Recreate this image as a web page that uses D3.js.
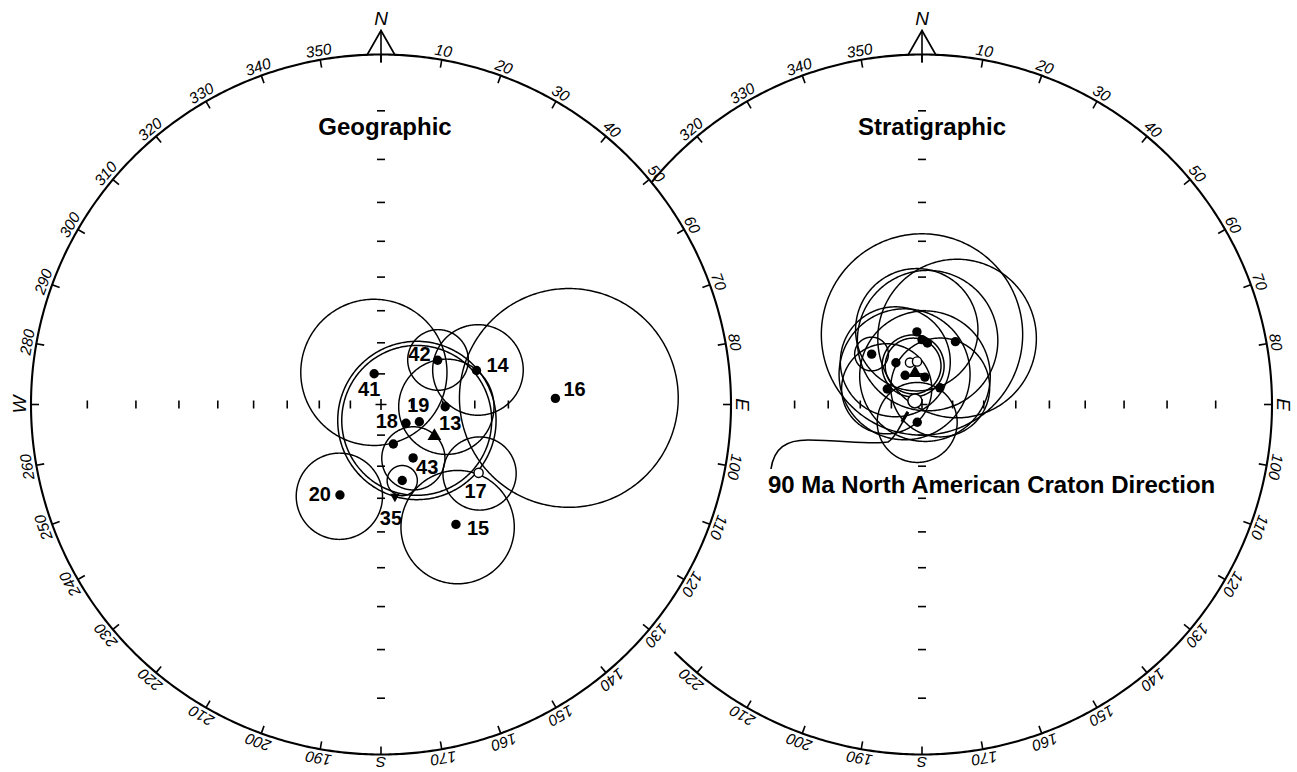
<!DOCTYPE html>
<html>
<head>
<meta charset="utf-8">
<script src="https://cdn.jsdelivr.net/npm/d3@7"></script>
<style>
  html, body { margin: 0; padding: 0; background: #fff; }
  svg { display: block; }
  .deg { font-family: "Liberation Sans", Arial, sans-serif; font-style: italic; font-size: 15.5px; }
  .card { font-family: "Liberation Sans", Arial, sans-serif; font-style: italic; font-size: 19px; }
  .card.south { font-size: 15.5px; }
  .title { font-family: "Liberation Sans", Arial, sans-serif; font-weight: bold; font-size: 24px; }
  .site { font-family: "Liberation Sans", Arial, sans-serif; font-weight: bold; font-size: 20px; }
  .note { font-family: "Liberation Sans", Arial, sans-serif; font-weight: bold; font-size: 24px; }
</style>
</head>
<body>
<svg id="chart" width="1297" height="772"></svg>
<script>
// ---- Net graduations ----
const azimuthTicks = d3.range(0, 360, 10);
const cardinalNames = new Map([[0, "N"], [90, "E"], [180, "S"], [270, "W"]]);
const inclinationTicks = [10, 20, 30, 40, 50, 60, 70, 80];

// ---- Geographic coordinates: site-mean directions ----
// declination (deg), inclination (deg, positive down; negative = upper hemisphere), alpha95 (deg, 0 = none)
const geoSiteIds = ["42", "14", "41", "13", "19", "18", "", "43", "", "35", "20", "17", "15", "16"];
const geoDec = [52, 70.4, 347.5, 92, 114.2, 126.9, 162.7, 149, 164.4, 171.4, 204.4, 125, 148, 88];
const geoInc = [66.8, 57.7, 79.7, 69.2, 76.3, 79.8, 76.5, 69.8, 64.6, 60.2, 58.3, -52.4, 46, 37];
const geoA95 = [9.5, 13.6, 23.4, 15, 0, 0, 0, 10, 4.7, 0, 13, 10.7, 15.8, 27.7];
const geoSymbol = ["dot", "dot", "dot", "dot", "dot", "dot", "dot", "dot", "dot", "wedge", "dot", "dot", "dot", "dot"];
const geoMeanDir = [120.6, 69.9];
const geoConeDir = [114, 77.8];
const geoConeRadii = [25.2, 23.9];

// ---- Stratigraphic (tilt-corrected) coordinates ----
const stratDec = [356, 0, 5, 28, 315, 328, 344, 353.4, 330, 6, 294, 47, 195];
const stratInc = [66.5, 69, 70, 67, 67, 74, -75.8, -75.9, 79, 81, 77.6, 82, 84];
const stratA95 = [19, 31, 22, 24.5, 5.3, 17.5, 0, 0, 21, 21, 14.5, 16, 13];
const stratMeanDir = [347.5, 79.5];
const stratConeDir = [347, 77.2];
const stratConeRadii = [10.0, 9.0];
const cratonDir = [297, 87.4];
const cratonText = "90 Ma North American Craton Direction";

// ---- Layout ----
const R = 350, CY = 404.5;
const nets = [
  { cx: 381, title: "Geographic", titleDx: 4, arc: [0, 360], other: 922 },
  { cx: 922, title: "Stratigraphic", titleDx: 10, arc: [-50.5, 225], other: 381 }
];
const cardinalOffset = { N: 6, E: 5, S: 2, W: 5 };
const geoLabelPlacement = {
  "42": [-7, 1, "end"], "14": [10, 1, "start"], "41": [-5, 22, "middle"],
  "13": [5, 23, "middle"], "19": [-1, -9.5, "middle"], "18": [-8, 5, "end"],
  "43": [3, 16, "start"], "35": [-4, 28, "middle"], "20": [-9, 6.5, "end"],
  "17": [-3, 25.5, "middle"], "15": [11, 10.5, "start"], "16": [8, -2, "start"]
};

const svg = d3.select("#chart");
svg.append("rect").attr("width", 1297).attr("height", 772).attr("fill", "#fff");

// direction -> point on a sphere whose north pole is "straight down"
const toGeo = (dec, inc) => [180 - dec, Math.abs(inc)];

function netProjection(cx) {
  return d3.geoStereographic().rotate([0, -90]).scale(R).translate([cx, CY]).precision(0.1);
}

// is azimuth inside the drawn part of the primitive (with a margin for labels)
function inArc(az, arc, margin) {
  const span = arc[1] - arc[0];
  if (span >= 360) return true;
  const a = (((az - arc[0]) % 360) + 360) % 360;
  return a >= margin && a <= span - margin;
}

function drawNet(net) {
  const proj = netProjection(net.cx);
  const g = svg.append("g");
  const stroke = "#000";

  // primitive circle
  const pts = d3.range(net.arc[0], net.arc[1] + 0.001, 0.5).map(a => proj([180 - a, 0]));
  g.append("path")
    .attr("d", d3.line()(pts) + (net.arc[1] - net.arc[0] >= 360 ? "Z" : ""))
    .attr("fill", "none").attr("stroke", stroke).attr("stroke-width", 2.1);

  // azimuth ticks and labels
  azimuthTicks.filter(az => inArc(az, net.arc, 3)).forEach(az => {
    const p = proj([180 - az, 0]);
    const ux = (p[0] - net.cx) / R, uy = (p[1] - CY) / R;
    g.append("line")
      .attr("x1", p[0]).attr("y1", p[1])
      .attr("x2", p[0] - ux * 8).attr("y2", p[1] - uy * 8)
      .attr("stroke", stroke).attr("stroke-width", 1.6);
    if (az === 0) return;
    const name = cardinalNames.get(az);
    g.append("text")
      .attr("class", name ? (name === "S" ? "card south" : "card") : "deg")
      .attr("text-anchor", "middle")
      .attr("transform", `translate(${net.cx},${CY}) rotate(${az}) translate(0,${-(R + (name ? cardinalOffset[name] : 4))})`)
      .text(name || String(az));
  });

  // north arrow
  const top = CY - R;
  g.append("path")
    .attr("d", `M${net.cx - 14},${top + 0.6}L${net.cx},${top - 24}L${net.cx + 14},${top + 0.6}`)
    .attr("fill", "none").attr("stroke", stroke).attr("stroke-width", 1.8).attr("stroke-linejoin", "miter");
  g.append("line")
    .attr("x1", net.cx).attr("y1", top - 24).attr("x2", net.cx).attr("y2", top + 8)
    .attr("stroke", stroke).attr("stroke-width", 1.6);
  g.append("text").attr("class", "card").attr("text-anchor", "middle")
    .attr("x", net.cx).attr("y", top - 29.5).text("N");

  // inclination ticks along the cardinal axes
  [0, 90, 180, 270].forEach(az => {
    inclinationTicks.forEach(inc => {
      const p = proj([180 - az, inc]);
      if (Math.hypot(p[0] - net.other, p[1] - CY) < R + 30) return;
      const horiz = az % 180 === 0;
      g.append("line")
        .attr("x1", horiz ? p[0] - 4 : p[0]).attr("x2", horiz ? p[0] + 4 : p[0])
        .attr("y1", horiz ? p[1] : p[1] - 4).attr("y2", horiz ? p[1] : p[1] + 4)
        .attr("stroke", stroke).attr("stroke-width", 1.6);
    });
  });
  const c = proj([0, 90]);
  g.append("path")
    .attr("d", `M${c[0] - 5.5},${c[1]}H${c[0] + 5.5}M${c[0]},${c[1] - 5.5}V${c[1] + 5.5}`)
    .attr("stroke", stroke).attr("stroke-width", 1.6);

  // title
  g.append("text").attr("class", "title").attr("text-anchor", "middle")
    .attr("x", net.cx + net.titleDx).attr("y", 135).text(net.title);

  return { g, proj, path: d3.geoPath(proj) };
}

function drawCircle(ctx, dec, inc, a95, width) {
  ctx.g.append("path")
    .attr("d", ctx.path(d3.geoCircle().center(toGeo(dec, inc)).radius(a95).precision(1)()))
    .attr("fill", "none").attr("stroke", "#000").attr("stroke-width", width || 1.45);
}

function drawSymbol(ctx, dec, inc, kind) {
  const p = ctx.proj(toGeo(dec, inc));
  if (kind === "triangle" || kind === "wedge") {
    ctx.g.append("path")
      .attr("d", d3.symbol(d3.symbolTriangle, kind === "triangle" ? 82 : 40)())
      .attr("transform", `translate(${p[0]},${p[1]})${kind === "wedge" ? " rotate(180)" : ""}`)
      .attr("fill", "#000");
  } else if (kind === "big") {
    ctx.g.append("circle").attr("cx", p[0]).attr("cy", p[1]).attr("r", 7)
      .attr("fill", "#fff").attr("stroke", "#000").attr("stroke-width", 1.5);
  } else if (inc < 0) {
    ctx.g.append("circle").attr("cx", p[0]).attr("cy", p[1]).attr("r", 4.6)
      .attr("fill", "#fff").attr("stroke", "#000").attr("stroke-width", 1.4);
  } else {
    ctx.g.append("circle").attr("cx", p[0]).attr("cy", p[1]).attr("r", 4.7).attr("fill", "#000");
  }
  return p;
}

// ---- Geographic net ----
const geo = drawNet(nets[0]);
geoDec.forEach((d, i) => { if (geoA95[i] > 0) drawCircle(geo, d, geoInc[i], geoA95[i]); });
geoConeRadii.forEach(a => drawCircle(geo, geoConeDir[0], geoConeDir[1], a, 1.5));
drawSymbol(geo, geoMeanDir[0], geoMeanDir[1], "triangle");
geoDec.forEach((d, i) => {
  const p = drawSymbol(geo, d, geoInc[i], geoSymbol[i]);
  const id = geoSiteIds[i];
  if (!id) return;
  const pl = geoLabelPlacement[id];
  geo.g.append("text").attr("class", "site").attr("text-anchor", pl[2])
    .attr("x", p[0] + pl[0]).attr("y", p[1] + pl[1]).text(id);
});

// ---- Stratigraphic net ----
const strat = drawNet(nets[1]);
stratDec.forEach((d, i) => { if (stratA95[i] > 0) drawCircle(strat, d, stratInc[i], stratA95[i]); });
stratConeRadii.forEach(a => drawCircle(strat, stratConeDir[0], stratConeDir[1], a, 1.5));
stratDec.forEach((d, i) => drawSymbol(strat, d, stratInc[i], "dot"));
drawSymbol(strat, stratMeanDir[0], stratMeanDir[1], "triangle");
const ref = drawSymbol(strat, cratonDir[0], cratonDir[1], "big");

// reference-direction callout
const tx = 768, ty = 493;
svg.append("text").attr("class", "note").attr("x", tx).attr("y", ty).text(cratonText);
const s = [tx + 3, ty - 24], e = ref;
const lp = d3.path();
lp.moveTo(s[0], s[1]);
lp.bezierCurveTo(s[0] + 3, s[1] - 21, s[0] + 15, s[1] - 29, s[0] + 37, s[1] - 29);
lp.bezierCurveTo(s[0] + 70, s[1] - 29, s[0] + 100, s[1] - 24, s[0] + 117, s[1] - 27);
lp.bezierCurveTo(e[0] - 20, e[1] + 37, e[0] - 14, e[1] + 24, e[0] - 7, e[1] + 11);
svg.append("path").attr("d", lp.toString()).attr("fill", "none")
  .attr("stroke", "#000").attr("stroke-width", 1.6);
// short heavy stroke where the callout meets the symbol
svg.append("line")
  .attr("x1", e[0] - 13).attr("y1", e[1] + 21).attr("x2", e[0] - 7).attr("y2", e[1] + 11)
  .attr("stroke", "#000").attr("stroke-width", 3.2);
</script>
</body>
</html>
